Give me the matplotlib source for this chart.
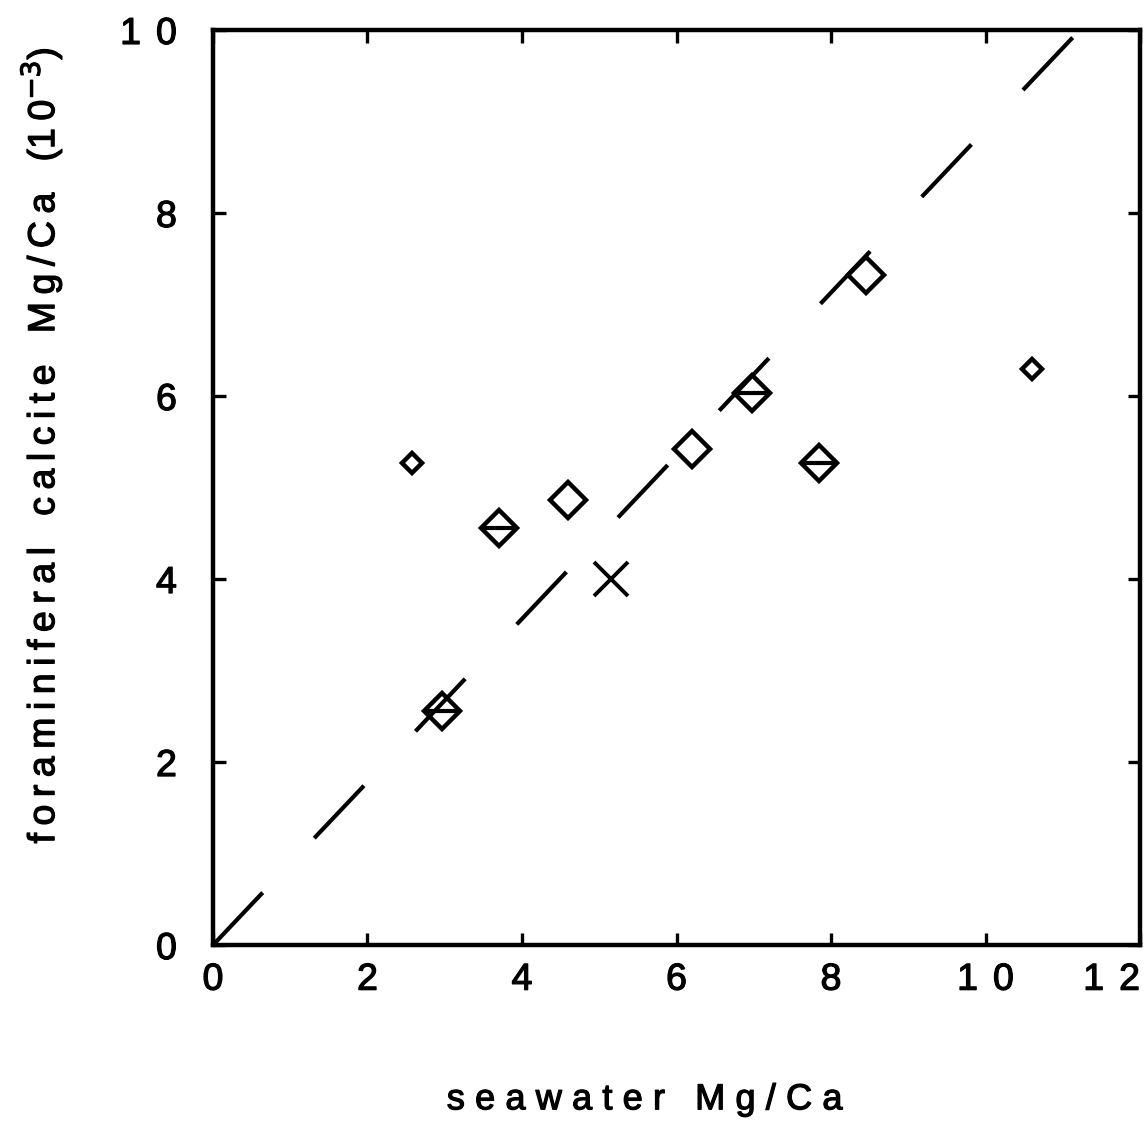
import numpy as np
import matplotlib
matplotlib.use('Agg')
import matplotlib.pyplot as plt
import matplotlib.patheffects as pe

plt.rcParams['font.family'] = ['Liberation Sans', 'DejaVu Sans']
plt.rcParams['lines.scale_dashes'] = False

# big diamonds
sw_big = [4.6, 6.2, 8.45]
fc_big = [4.86, 5.42, 7.32]
# big diamonds with a bar through
sw_bar = [2.96, 3.7, 6.98, 7.85]
fc_bar = [2.56, 4.56, 6.03, 5.27]
bar_err = [0.22, 0.22, 0.22, 0.22]
# small diamonds
sw_small = [2.58, 10.6]
fc_small = [5.27, 6.29]
# cross
sw_x = [5.15]
fc_x = [4.0]
# 1:1 style line
line_x = [0.0, 11.3]
line_y = [0.0, 10.07]

xticks = [0, 2, 4, 6, 8, 10, 12]
yticks = [0, 2, 4, 6, 8, 10]


def spaced(s, sep='\u2009'):
    return sep.join(s)


ink = [pe.withStroke(linewidth=0.9, foreground='black')]

fig = plt.figure(figsize=(11.47, 11.48), dpi=100)
ax = fig.add_axes([0.1857, 0.1768, 0.8082, 0.7971])

ax.plot(line_x, line_y, color='black', lw=3, linestyle=(0, (52, 54)))

ax.errorbar(sw_bar, fc_bar, xerr=bar_err, fmt='none', ecolor='black', elinewidth=3, capsize=0)
ax.plot(sw_big + sw_bar, fc_big + fc_bar, 'D', ms=18, mfc='none', mec='black', mew=3.2)
ax.plot(sw_small, fc_small, 'D', ms=10, mfc='none', mec='black', mew=3.2)
ax.plot(sw_x, fc_x, 'x', ms=24, mec='black', mew=2.8)

ax.set_xlim(0, 12)
ax.set_ylim(0, 10)
ax.set_xticks(xticks)
ax.set_yticks(yticks)
ax.set_xticklabels([spaced(str(v), '\u2009\u2009') for v in xticks])
ax.set_yticklabels([spaced(str(v), '\u2009\u2009') for v in yticks])
ax.tick_params(direction='in', length=9, width=2.4, top=True, right=True, labelsize=27)
ax.tick_params(axis='x', pad=12)
ax.tick_params(axis='y', pad=26)
for lab in ax.get_xticklabels() + ax.get_yticklabels():
    lab.set_path_effects(ink)
xl = ax.get_xticklabels()
xl[-1].set_horizontalalignment('right')
xl[-1].set_x(12.15)
for s in ax.spines.values():
    s.set_linewidth(3.2)

fig.text(0.562, 0.042, spaced('seawater', '\u2009\u200a') + '   ' + spaced('Mg/Ca', '\u2009\u200a'),
         fontsize=26, ha='center', va='center', path_effects=ink)
fig.text(0.036, 0.612, spaced('foraminiferal') + '   ' + spaced('calcite')
         + '   ' + spaced('Mg/Ca') + '   ' + '(1\u20090$^{-3}$)', fontsize=27,
         rotation=90, ha='center', va='center', path_effects=ink)

fig.savefig('out.png', dpi=100)
